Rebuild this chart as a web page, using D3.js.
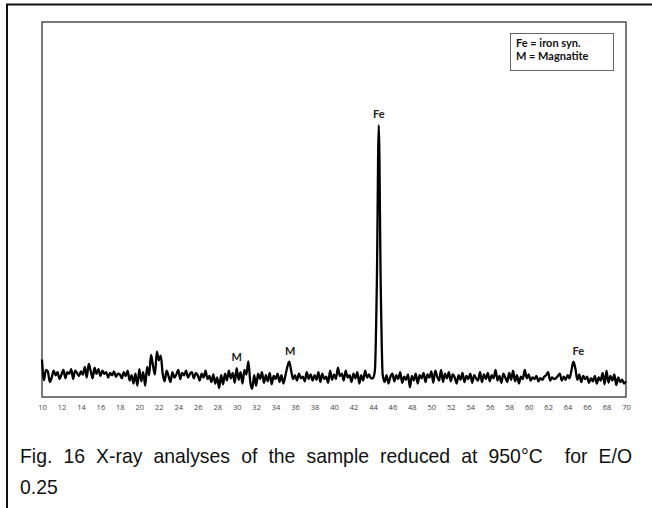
<!DOCTYPE html>
<html><head><meta charset="utf-8">
<script src="https://cdn.jsdelivr.net/npm/d3@7"></script>
<style>html,body{margin:0;padding:0;background:#fff;}svg{display:block;}</style>
</head><body>
<script>
// ---- data ----
const angleStart = 10;
const angleStep = 0.2;
const intensity = [
  100,45,72,68,40,52,70,58,66,48,
  60,72,50,66,62,74,48,70,64,56,
  68,60,80,52,88,70,50,78,62,74,
  56,70,62,66,52,64,58,68,54,62,
  60,50,66,56,70,44,58,36,62,30,
  74,42,66,30,80,58,112,84,60,121,
  98,110,62,42,70,56,40,66,52,60,
  72,48,64,58,70,52,62,66,50,64,
  58,44,62,52,70,48,56,40,60,36,
  52,24,58,34,62,44,70,50,64,38,
  77,46,66,36,72,60,95,40,22,58,
  30,62,48,66,38,58,42,64,34,56,
  48,62,40,58,36,56,80,94,70,48,
  58,44,62,50,54,42,66,48,60,44,
  58,46,66,40,62,48,54,38,70,46,
  60,48,78,56,62,44,70,52,58,40,
  62,50,66,36,58,44,70,52,60,50,
  50,70,300,725,300,60,40,58,36,54,
  62,42,58,48,66,38,54,46,60,26,
  56,44,62,36,58,50,64,40,60,52,
  68,38,70,54,44,72,40,62,50,66,
  42,60,52,36,58,46,64,40,56,48,
  62,38,58,50,44,66,40,60,48,64,
  42,58,50,72,44,56,38,62,52,40,
  64,46,70,42,58,36,54,48,72,50,
  60,44,52,48,56,42,50,46,54,58,
  66,44,52,48,50,56,62,44,54,46,
  58,50,72,94,76,46,60,40,56,48,
  54,38,50,42,56,36,52,44,64,34,
  70,38,56,44,60,32,52,40,46,36,
  42
];
const xTicks = [10,12,14,16,18,20,22,24,26,28,30,32,34,36,38,40,42,44,46,48,50,52,54,56,58,60,62,64,66,68,70];
const peakLabels = ["M","M","Fe","Fe"];
const peakAngles = [30.0,35.5,44.6,65.1];
const peakHeights = [77,94,725,94];
const legendLines = ["Fe = iron syn.","M = Magnatite"];
const captionLines = ["Fig. 16 X-ray analyses of the sample reduced at 950°C  for E/O","0.25"];

// ---- drawing ----
const W = 652, H = 508;
const svg = d3.select("body").append("svg").attr("width",W).attr("height",H);

// outer frame
svg.append("rect").attr("x",7).attr("y",4.5).attr("width",700).attr("height",600)
  .attr("fill","none").attr("stroke","#111").attr("stroke-width",2);

const plot = {left:42, right:626, top:22, bottom:397};
const x = d3.scaleLinear().domain([10,70]).range([plot.left, plot.right]);
const y = d3.scaleLinear().domain([0,1000]).range([plot.bottom, plot.top]);

// plot frame
svg.append("rect").attr("x",plot.left).attr("y",plot.top)
  .attr("width",plot.right-plot.left).attr("height",plot.bottom-plot.top)
  .attr("fill","none").attr("stroke","#333").attr("stroke-width",1.3);

// x axis labels
const axis = d3.axisBottom(x).tickValues(xTicks).tickSize(0).tickPadding(8);
const gx = svg.append("g").attr("transform",`translate(0,${plot.bottom})`).call(axis);
gx.select(".domain").remove();
gx.selectAll("text").attr("font-family","'Open Sans', sans-serif").attr("font-size",7.5).attr("fill","#444");

// line
const data = intensity.map((v,i)=>({a: angleStart + i*angleStep, v}));
const line = d3.line().x(d=>x(d.a)).y(d=>y(d.v)).curve(d3.curveMonotoneX);
svg.append("path").datum(data).attr("d",line)
  .attr("fill","none").attr("stroke","#000").attr("stroke-width",2.3).attr("stroke-linejoin","round");

// peak labels
svg.selectAll("text.pk").data(peakLabels).enter().append("text").attr("class","pk")
  .attr("x",(d,i)=>x(peakAngles[i]))
  .attr("y",(d,i)=>y(peakHeights[i]) - 7)
  .attr("text-anchor","middle")
  .attr("font-family","Lato, sans-serif").attr("font-weight","bold").attr("font-size",11)
  .attr("fill","#222").text(d=>d);

// legend
svg.append("rect").attr("x",510.5).attr("y",33.5).attr("width",103).attr("height",37)
  .attr("fill","#fff").attr("stroke","#666").attr("stroke-width",1);
svg.selectAll("text.lg").data(legendLines).enter().append("text").attr("class","lg")
  .attr("x",516).attr("y",(d,i)=>47+i*13)
  .attr("font-family","Lato, sans-serif").attr("font-weight","bold").attr("font-size",11)
  .attr("fill","#111").text(d=>d);

// caption (justified first line)
const sx = 0.97;
const caps = svg.selectAll("text.cap").data(captionLines).enter().append("text").attr("class","cap")
  .attr("transform",(d,i)=>`translate(20,${463+i*31}) scale(${sx},1)`)
  .attr("xml:space","preserve").style("white-space","pre")
  .attr("font-family","'Liberation Sans', Arial, sans-serif").attr("font-size",20)
  .attr("fill","#111").text(d=>d);
const first = caps.filter((d,i)=>i===0);
const natural = first.node().getComputedTextLength();
const spaces = (captionLines[0].match(/ /g)||[]).length;
first.attr("word-spacing", Math.max(0,(612/sx - natural)/spaces));
</script>
</body></html>
